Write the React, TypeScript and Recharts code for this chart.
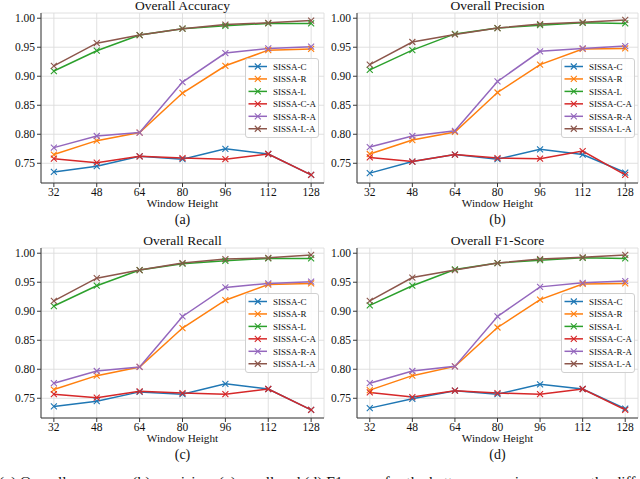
import React from 'react';
import { LineChart, Line, XAxis, YAxis, CartesianGrid } from 'recharts';

const heights = [32, 48, 64, 80, 96, 112, 128];
const seriesNames = ['SISSA-C', 'SISSA-R', 'SISSA-L', 'SISSA-C-A', 'SISSA-R-A', 'SISSA-L-A'];
const colors = ['#1f77b4', '#ff7f0e', '#2ca02c', '#d62728', '#9467bd', '#8c564b'];
const yTicks = [0.75, 0.8, 0.85, 0.9, 0.95, 1.0];

// one row per series, same order as seriesNames
const accuracy = [
  [0.735, 0.745, 0.762, 0.757, 0.775, 0.766, 0.73],
  [0.765, 0.789, 0.803, 0.871, 0.918, 0.945, 0.947],
  [0.909, 0.944, 0.971, 0.982, 0.987, 0.991, 0.991],
  [0.758, 0.751, 0.762, 0.759, 0.757, 0.766, 0.73],
  [0.777, 0.797, 0.803, 0.89, 0.94, 0.948, 0.951],
  [0.918, 0.957, 0.971, 0.982, 0.989, 0.992, 0.996],
];
const precision = [
  [0.733, 0.753, 0.765, 0.757, 0.774, 0.765, 0.734],
  [0.766, 0.79, 0.804, 0.872, 0.92, 0.947, 0.948],
  [0.911, 0.945, 0.973, 0.983, 0.988, 0.992, 0.991],
  [0.76, 0.753, 0.765, 0.759, 0.758, 0.771, 0.73],
  [0.778, 0.797, 0.806, 0.891, 0.943, 0.948, 0.952],
  [0.92, 0.959, 0.972, 0.983, 0.99, 0.993, 0.997],
];
const recall = [
  [0.736, 0.745, 0.761, 0.757, 0.775, 0.766, 0.73],
  [0.765, 0.789, 0.804, 0.871, 0.919, 0.946, 0.948],
  [0.909, 0.944, 0.971, 0.982, 0.987, 0.991, 0.991],
  [0.757, 0.751, 0.762, 0.759, 0.757, 0.766, 0.73],
  [0.776, 0.797, 0.804, 0.891, 0.941, 0.948, 0.951],
  [0.918, 0.957, 0.971, 0.983, 0.99, 0.992, 0.997],
];
const f1Score = [
  [0.733, 0.749, 0.763, 0.757, 0.774, 0.766, 0.732],
  [0.764, 0.789, 0.805, 0.872, 0.92, 0.947, 0.948],
  [0.91, 0.944, 0.972, 0.983, 0.988, 0.992, 0.991],
  [0.76, 0.752, 0.763, 0.759, 0.757, 0.766, 0.73],
  [0.776, 0.797, 0.805, 0.891, 0.942, 0.949, 0.952],
  [0.918, 0.958, 0.971, 0.983, 0.99, 0.993, 0.997],
];

const serif = '"Liberation Serif", "DejaVu Serif", serif';
const frame = '#3a3a3a';

const xDot = (color: string) => (props: any) => {
  const { cx, cy, index } = props;
  if (cx == null || cy == null) return <g key={`d-${index}`} />;
  const s = 3;
  return (
    <path
      key={`d-${index}`}
      d={`M${cx - s},${cy - s}L${cx + s},${cy + s}M${cx - s},${cy + s}L${cx + s},${cy - s}`}
      stroke={color}
      strokeWidth={1.1}
      fill="none"
    />
  );
};

type panelProps = {
  values: number[][];
  left: number;
  top: number;
  width: number;
};

const Panel = ({ values, left, top, width }: panelProps) => {
  const rows = heights.map((h, i) => {
    const row: any = { h };
    values.forEach((s, k) => {
      row['s' + k] = s[i];
    });
    return row;
  });
  const tick = { fontFamily: serif, fontSize: 11.5, fill: '#111' };
  return (
    <div style={{ position: 'absolute', left, top, width, height: 203 }}>
      <LineChart width={width} height={203} data={rows} margin={{ top: 13, right: 2, bottom: 0, left: 0 }}>
        <CartesianGrid stroke="#dddddd" strokeWidth={0.9} />
        <XAxis
          dataKey="h"
          type="number"
          domain={[27.2, 132.8]}
          ticks={heights}
          allowDataOverflow
          height={20}
          tick={tick}
          tickSize={4}
          tickMargin={1}
          stroke={frame}
        />
        <XAxis xAxisId="top" dataKey="h" type="number" domain={[27.2, 132.8]} orientation="top" height={0} tick={false} tickLine={false} stroke={frame} />
        <YAxis
          type="number"
          domain={[0.716, 1.009]}
          ticks={yTicks}
          allowDataOverflow
          width={41}
          tick={tick}
          tickSize={4}
          tickMargin={2}
          tickFormatter={(v: number) => v.toFixed(2)}
          stroke={frame}
        />
        <YAxis yAxisId="right" orientation="right" domain={[0.716, 1.009]} width={0} tick={false} tickLine={false} stroke={frame} />
        {seriesNames.map((name, k) => (
          <Line
            key={name}
            name={name}
            type="linear"
            dataKey={'s' + k}
            stroke={colors[k]}
            strokeWidth={1.5}
            dot={xDot(colors[k])}
            activeDot={false}
            isAnimationActive={false}
          />
        ))}
      </LineChart>
      <svg width={width} height={203} style={{ position: 'absolute', left: 0, top: 0, pointerEvents: 'none' }}>
        <rect x={245.5} y={58.5} width={73} height={79} rx={2.5} fill="#fff" fillOpacity={0.85} stroke="#d0d0d0" />
        {seriesNames.map((name, k) => {
          const y = 66.5 + k * 12.45;
          return (
            <g key={name}>
              <line x1={248.5} x2={267} y1={y} y2={y} stroke={colors[k]} strokeWidth={1.5} />
              <path d={`M${254.8},${y - 3}L${260.8},${y + 3}M${254.8},${y + 3}L${260.8},${y - 3}`} stroke={colors[k]} strokeWidth={1.1} />
              <text x={273} y={y + 3.2} fontFamily={serif} fontSize={9} fill="#111">
                {name}
              </text>
            </g>
          );
        })}
      </svg>
    </div>
  );
};

const labels = [
  { title: 'Overall Accuracy', sub: '(a)', cx: 182.5, ty: 9.8, ly: 206.5, sy: 224 },
  { title: 'Overall Precision', sub: '(b)', cx: 497.5, ty: 9.8, ly: 206.5, sy: 224 },
  { title: 'Overall Recall', sub: '(c)', cx: 182.5, ty: 244.5, ly: 442, sy: 459 },
  { title: 'Overall F1-Score', sub: '(d)', cx: 497.5, ty: 244.5, ly: 442, sy: 459 },
];

const App = () => {
  return (
    <div style={{ position: 'absolute', left: 0, top: 0, width: 640, height: 479, overflow: 'hidden', background: '#fff' }}>
      <Panel values={accuracy} left={0} top={0} width={326} />
      <Panel values={precision} left={316} top={0} width={324} />
      <Panel values={recall} left={0} top={235} width={326} />
      <Panel values={f1Score} left={316} top={235} width={324} />
      <svg width={640} height={479} style={{ position: 'absolute', left: 0, top: 0, pointerEvents: 'none' }}>
        {labels.map((l) => (
          <g key={l.sub} fontFamily={serif} fill="#111" textAnchor="middle">
            <text x={l.cx} y={l.ty} fontSize={13.5}>
              {l.title}
            </text>
            <text x={l.cx} y={l.ly} fontSize={11.2}>
              Window Height
            </text>
            <text x={l.cx} y={l.sy} fontSize={14}>
              {l.sub}
            </text>
          </g>
        ))}
        <text x={-1} y={487} fontFamily={serif} fontSize={15.5} fill="#111">
          (a) Overall accuracy, (b) precision, (c) recall and (d) F1-score for the better comparison among the different
        </text>
      </svg>
    </div>
  );
};

export default App;
